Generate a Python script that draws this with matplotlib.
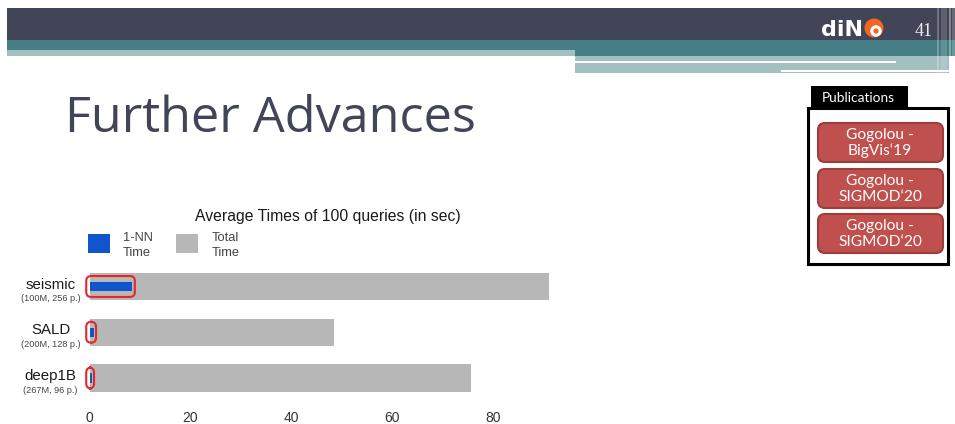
import matplotlib
matplotlib.use("Agg")
import matplotlib.pyplot as plt
from matplotlib.patches import Rectangle, FancyBboxPatch, Circle
from matplotlib.transforms import blended_transform_factory

# ---- data -------------------------------------------------------------
categories = ["seismic", "SALD", "deep1B"]
subtitles = ["(100M, 256 p.)", "(200M, 128 p.)", "(267M, 96 p.)"]
total_time = [91.2, 48.5, 75.7]
nn_time = [8.5, 0.8, 0.4]
xticks = [0, 20, 40, 60, 80]
series_names = ["1-NN\nTime", "Total\nTime"]
publications = ["Gogolou -\nBigVis\u201819", "Gogolou -\nSIGMOD\u201820", "Gogolou -\nSIGMOD\u201820"]

# ---- style ------------------------------------------------------------
W, H = 955, 424
DARK = "#424457"
TEAL = "#457e84"
LIGHT = "#a2bfc2"
BLUE = "#1155cc"
GRAY = "#b7b7b7"
RED = "#e8262a"
PUB_FILL = "#c0504d"
PUB_EDGE = "#9a3d3b"
TXT = "#333333"

fig = plt.figure(figsize=(W / 100, H / 100), dpi=100)
fig.patch.set_facecolor("white")

# full-figure canvas in pixel coordinates for the slide decoration
bg = fig.add_axes([0, 0, 1, 1])
bg.set_xlim(0, W)
bg.set_ylim(H, 0)
bg.axis("off")

def rect(x0, y0, x1, y1, color, **kw):
    bg.add_patch(Rectangle((x0, y0), x1 - x0, y1 - y0, facecolor=color,
                           edgecolor="none", **kw))

# header bands
rect(7, 8, W, 40, DARK)
rect(7, 40, W, 50, TEAL)
rect(7, 50, 575, 56, LIGHT)
rect(575, 50, W, 56, TEAL)
rect(575, 56, 949, 73, LIGHT)
rect(575, 61, 896, 62.6, "white")
rect(781, 70, 949, 72, "white")
# thin vertical stripes at the right edge
for x0, x1, a in [(937, 939, 0.25), (941, 947, 0.15), (949, 951, 0.35), (952, 955, 0.2)]:
    rect(x0, 8, x1, 73, "white", alpha=a)

# logo and page number
bg.text(821, 30, "diN", color="white", fontsize=16, fontweight="bold",
        family="DejaVu Sans", ha="left", va="center")
bg.add_patch(Circle((874, 28), 9.5, facecolor="#f26522", edgecolor="none"))
bg.add_patch(Circle((876, 31), 4.2, facecolor="none", edgecolor="white", lw=2.2))
bg.text(924, 31, "41", color="#eeeeee", fontsize=13, family="Liberation Serif",
        ha="center", va="center")

# slide title
bg.text(65, 119, "Further Advances", color=DARK, fontsize=36.3, family="Open Sans",
        ha="left", va="center")

# publications panel
rect(808, 108, 948, 264, "white")
bg.add_patch(Rectangle((808, 108), 140, 156, facecolor="white", edgecolor="black", lw=2.2))
rect(811, 86, 908, 110, "black")
bg.text(858, 98, "Publications", color="white", fontsize=9.8, family="Lato",
        ha="center", va="center")
for i, label in enumerate(publications):
    y0 = [123, 169, 214][i]
    bg.add_patch(FancyBboxPatch((821, y0 + 3), 119, 33,
                                boxstyle="round,pad=3,rounding_size=7",
                                facecolor=PUB_FILL, edgecolor=PUB_EDGE, lw=1.5))
    bg.text(880, y0 + 20, label, color="white", fontsize=11.2, family="Lato",
            ha="center", va="center", linespacing=1.12)

# ---- bar chart --------------------------------------------------------
ax_left, ax_right = 89.5, 89.5 + 95 * 5.04
ax_top, ax_bot = 263.6, 400.9
ax = fig.add_axes([ax_left / W, (H - ax_bot) / H, (ax_right - ax_left) / W,
                   (ax_bot - ax_top) / H])
ax.set_xlim(0, 95)
ax.set_ylim(len(categories) - 0.5, -0.5)
ax.patch.set_alpha(0)

ypos = list(range(len(categories)))
ax.barh(ypos, total_time, height=0.6, color=GRAY, zorder=1)
ax.barh(ypos, nn_time, height=0.2, color=BLUE, zorder=2)

# highlight the 1-NN portion of each bar
x_per_px = 95 / (ax_right - ax_left)
y_per_px = 3 / (ax_bot - ax_top)
for y, v in zip(ypos, nn_time):
    ax.add_patch(FancyBboxPatch((-0.3, y - 0.19), v + 0.45, 0.38,
                                boxstyle="round,pad=0.35,rounding_size=1.0",
                                mutation_aspect=y_per_px / x_per_px,
                                facecolor="none", edgecolor=RED, lw=1.5,
                                zorder=3, clip_on=False))

for s in ax.spines.values():
    s.set_visible(False)
ax.set_xticks(xticks)
ax.set_xticklabels([str(t) for t in xticks], fontsize=10, color=TXT,
                   family="Liberation Sans")
ax.tick_params(axis="x", length=0, pad=7)
ax.set_yticks([])

# category labels with dataset sizes underneath
lab_tr = blended_transform_factory(bg.transData, ax.transData)
for y, name, sub in zip(ypos, categories, subtitles):
    ax.text(50.5, y - 0.04, name, transform=lab_tr, fontsize=10.8, color="#1a1a1a",
            family="Liberation Sans", ha="center", va="center")
    ax.text(50.5, y + 0.27, sub, transform=lab_tr, fontsize=6.6, color="#444444",
            family="Liberation Sans", ha="center", va="center")

# chart title and legend
bg.text(328, 216, "Average Times of 100 queries (in sec)", fontsize=11.3,
        color="#1a1a1a", family="Liberation Sans", ha="center", va="center")
for (x0, x1, tx, color, label) in [(88, 110, 123, BLUE, series_names[0]),
                                   (176, 198, 212, GRAY, series_names[1])]:
    rect(x0, 234, x1, 253, color)
    bg.text(tx, 245.5, label, fontsize=9.3, color="#444444",
            family="Liberation Sans", ha="left", va="center", linespacing=1.3)

fig.savefig("out.png", dpi=100)
